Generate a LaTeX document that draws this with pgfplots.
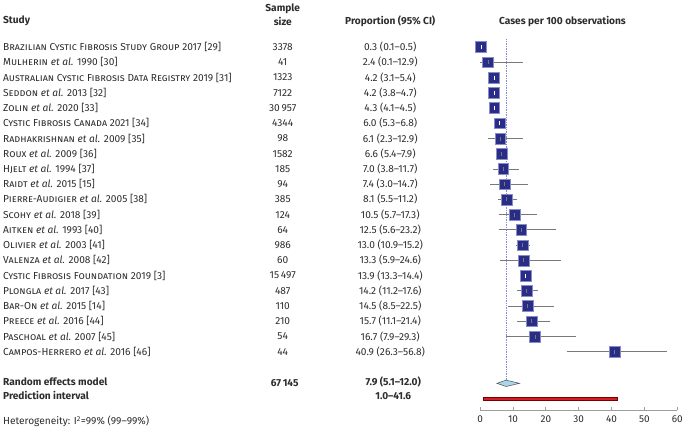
\documentclass[border=0pt]{standalone}
\usepackage{pgfplots}
\pgfplotsset{compat=1.18}
\usepackage{pgfplotstable}
\usepackage{fontspec}
\setmainfont{Fira Sans}
\definecolor{boxc}{RGB}{42,45,134}
\definecolor{boxb}{RGB}{135,140,205}
\definecolor{cig}{RGB}{120,120,120}
\definecolor{diamc}{RGB}{166,216,232}
\definecolor{predc}{RGB}{214,30,40}
\definecolor{txt}{RGB}{45,45,45}

\pgfplotstableread{
row est lo hi
1 0.3 0.1 0.5
2 2.4 0.1 12.9
3 4.2 3.1 5.4
4 4.2 3.8 4.7
5 4.3 4.1 4.5
6 6.0 5.3 6.8
7 6.1 2.3 12.9
8 6.6 5.4 7.9
9 7.0 3.8 11.7
10 7.4 3.0 14.7
11 8.1 5.5 11.2
12 10.5 5.7 17.3
13 12.5 5.6 23.2
14 13.0 10.9 15.2
15 13.3 5.9 24.6
16 13.9 13.3 14.4
17 14.2 11.2 17.6
18 14.5 8.5 22.5
19 15.7 11.1 21.4
20 16.7 7.9 29.3
21 40.9 26.3 56.8
}\studies

\pgfplotstableread{
row est lo hi
1 0.3 0.1 0.5
3 4.2 3.1 5.4
4 4.2 3.8 4.7
5 4.3 4.1 4.5
6 6.0 5.3 6.8
16 13.9 13.3 14.4
}\narrow

\newcommand{\fs}{\fontsize{10.2}{12}\selectfont}

\begin{document}
\begin{tikzpicture}[font=\fs, text=txt]
\begin{axis}[
  scale only axis, width=198pt, height=411.7pt,
  xmin=0, xmax=60, ymin=21.3, ymax=433,
  axis x line*=bottom, axis y line=none,
  axis line style={draw=gray!75, line width=0.7pt},
  xtick={0,10,...,60}, tick align=inside, major tick length=3.5pt,
  tick style={draw=gray!75, line width=0.7pt},
  xticklabel style={font=\fontsize{10}{12}\selectfont, text=txt, yshift=-2pt},
  /pgf/number format/assume math mode=true,
  clip=false,
]
% reference line
\addplot[densely dotted, color=boxb, line width=0.7pt] coordinates {(7.9,394) (7.9,51.5)};
% boxes
\addplot[only marks, mark=square*, mark size=5.4pt,
  mark options={fill=boxc, draw=boxb, line width=0.5pt}]
  table[x=est, y expr={386-(\thisrow{row}-1)*15.3}] {\studies};
% CI lines
\addplot[only marks, mark=|, mark size=2pt, mark options={draw=cig, line width=0.8pt},
  error bars/.cd, x dir=both, x explicit, error mark=none,
  error bar style={draw=cig, line width=0.9pt}]
  table[x=est, y expr={386-(\thisrow{row}-1)*15.3},
        x error plus expr={\thisrow{hi}-\thisrow{est}},
        x error minus expr={\thisrow{est}-\thisrow{lo}}] {\studies};
\addplot[only marks, mark=|, mark size=2pt, mark options={draw=white, line width=0.8pt},
  error bars/.cd, x dir=both, x explicit, error mark=none,
  error bar style={draw=white, line width=0.9pt}]
  table[x=est, y expr={386-(\thisrow{row}-1)*15.3},
        x error plus expr={\thisrow{hi}-\thisrow{est}},
        x error minus expr={\thisrow{est}-\thisrow{lo}}] {\narrow};
% summary diamond
\addplot[fill=diamc, draw=gray!60!black, line width=0.5pt]
  coordinates {(5.1,48.3) (7.9,51.5) (12.0,48.3) (7.9,45.1)} -- cycle;
% prediction interval
\addplot[fill=predc, draw=red!45!black, line width=0.5pt]
  coordinates {(1.0,31.2) (41.6,31.2) (41.6,34.8) (1.0,34.8)} -- cycle;
\coordinate (TL) at (axis cs:-146.1515,433);
\end{axis}
\begin{scope}[shift={(TL)}, x=1pt, y=-1pt]
\path (0,0) rectangle (686,433);
\begin{scope}[every node/.style={font=\fs\bfseries}]
\node[anchor=west, inner sep=0pt] at (3,21) {Study};
\node at (284,8) {Sample};
\node at (284,21) {size};
\node at (392,21) {Proportion (95\% CI)};
\node at (565,21) {Cases per 100 observations};
\node[anchor=west, inner sep=0pt] at (3,383) {Random effects model};
\node at (286,384) {67\,145};
\node at (395,383) {7.9 (5.1–12.0)};
\node[anchor=west, inner sep=0pt] at (3,397) {Prediction interval};
\node at (395,397) {1.0–41.6};
\end{scope}
\node[anchor=west, inner sep=0pt] at (3,423) {Heterogeneity: I\textsuperscript{2}=99\% (99–99\%)};
\foreach \i/\name/\n/\p in {
 1/{\textsc{Brazilian Cystic Fibrosis Study Group} 2017 [29]}/3378/{0.3 (0.1–0.5)},
 2/{\textsc{Mulherin} \textit{et al.} 1990 [30]}/41/{2.4 (0.1–12.9)},
 3/{\textsc{Australian Cystic Fibrosis Data Registry} 2019 [31]}/1323/{4.2 (3.1–5.4)},
 4/{\textsc{Seddon} \textit{et al.} 2013 [32]}/7122/{4.2 (3.8–4.7)},
 5/{\textsc{Zolin} \textit{et al.} 2020 [33]}/{30\,957}/{4.3 (4.1–4.5)},
 6/{\textsc{Cystic Fibrosis Canada} 2021 [34]}/4344/{6.0 (5.3–6.8)},
 7/{\textsc{Radhakrishnan} \textit{et al.} 2009 [35]}/98/{6.1 (2.3–12.9)},
 8/{\textsc{Roux} \textit{et al.} 2009 [36]}/1582/{6.6 (5.4–7.9)},
 9/{\textsc{Hjelt} \textit{et al.} 1994 [37]}/185/{7.0 (3.8–11.7)},
 10/{\textsc{Raidt} \textit{et al.} 2015 [15]}/94/{7.4 (3.0–14.7)},
 11/{\textsc{Pierre-Audigier} \textit{et al.} 2005 [38]}/385/{8.1 (5.5–11.2)},
 12/{\textsc{Scohy} \textit{et al.} 2018 [39]}/124/{10.5 (5.7–17.3)},
 13/{\textsc{Aitken} \textit{et al.} 1993 [40]}/64/{12.5 (5.6–23.2)},
 14/{\textsc{Olivier} \textit{et al.} 2003 [41]}/986/{13.0 (10.9–15.2)},
 15/{\textsc{Valenza} \textit{et al.} 2008 [42]}/60/{13.3 (5.9–24.6)},
 16/{\textsc{Cystic Fibrosis Foundation} 2019 [3]}/{15\,497}/{13.9 (13.3–14.4)},
 17/{\textsc{Plongla} \textit{et al.} 2017 [43]}/487/{14.2 (11.2–17.6)},
 18/{\textsc{Bar-On} \textit{et al.} 2015 [14]}/110/{14.5 (8.5–22.5)},
 19/{\textsc{Preece} \textit{et al.} 2016 [44]}/210/{15.7 (11.1–21.4)},
 20/{\textsc{Paschoal} \textit{et al.} 2007 [45]}/54/{16.7 (7.9–29.3)},
 21/{\textsc{Campos-Herrero} \textit{et al.} 2016 [46]}/44/{40.9 (26.3–56.8)}}
{
 \pgfmathsetmacro\yy{47+(\i-1)*15.3}
 \node[anchor=west, inner sep=0pt] at (3,\yy) {\name};
 \node at (284,\yy) {\n};
 \node at (392,\yy) {\p};
}
\end{scope}
\end{tikzpicture}
\end{document}
